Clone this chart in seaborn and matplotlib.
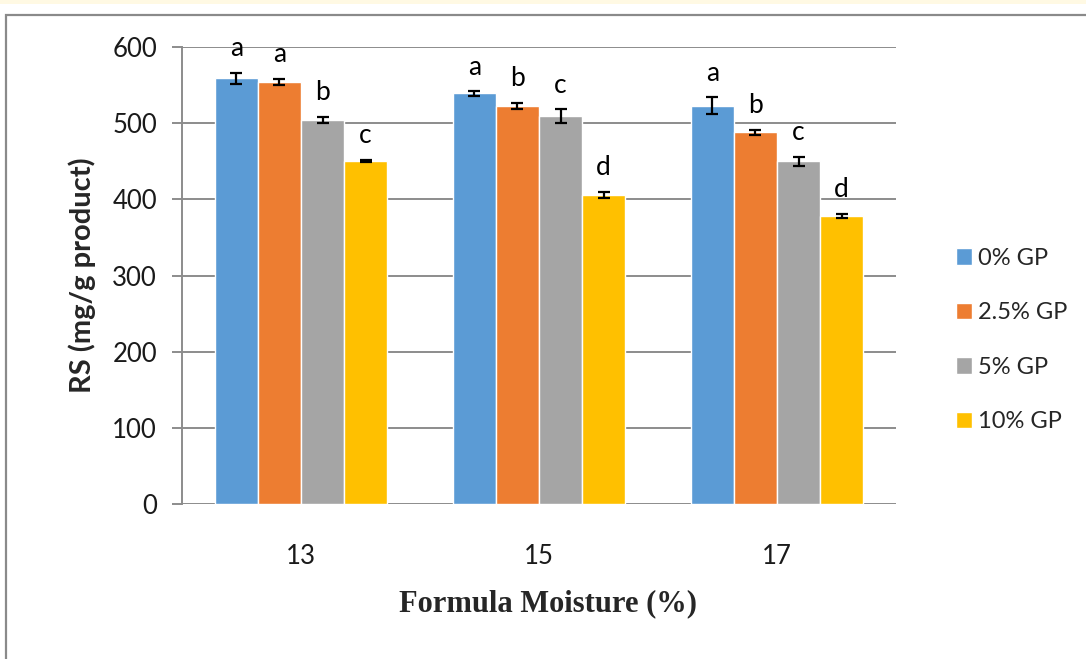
import matplotlib
matplotlib.use('Agg')
import matplotlib.pyplot as plt
import seaborn as sns
import pandas as pd
from matplotlib.patches import Rectangle

# data
moisture = ['13', '15', '17']
levels = ['0% GP', '2.5% GP', '5% GP', '10% GP']
rs_0 = [559, 539, 523]
rs_25 = [554, 523, 488]
rs_5 = [504, 509, 450]
rs_10 = [450, 406, 378]
err_0 = [7, 3, 11]
err_25 = [4, 4, 3]
err_5 = [4, 9, 6]
err_10 = [1.5, 4, 3]
let_0 = ['a', 'a', 'a']
let_25 = ['a', 'b', 'b']
let_5 = ['b', 'c', 'c']
let_10 = ['c', 'd', 'd']

colors = ['#5B9BD5', '#ED7D31', '#A5A5A5', '#FFC000']

values = [rs_0, rs_25, rs_5, rs_10]
errors = [err_0, err_25, err_5, err_10]
letters = [let_0, let_25, let_5, let_10]

rows = []
for lev, vals in zip(levels, values):
    for m, v in zip(moisture, vals):
        rows.append({'moisture': m, 'level': lev, 'rs': v})
df = pd.DataFrame(rows)

sns.set_style('white')
plt.rcParams['font.family'] = ['Lato', 'DejaVu Sans']

fig = plt.figure(figsize=(10.86, 6.59), dpi=100)
ax = fig.add_axes([182/1086, 155/659, 714/1086, 457/659])

sns.barplot(data=df, x='moisture', y='rs', hue='level', hue_order=levels,
            palette=colors, width=0.723, gap=0, saturation=1, errorbar=None,
            ax=ax)

for cont, errs, lets in zip(ax.containers, errors, letters):
    for bar, e, t in zip(cont, errs, lets):
        xc = bar.get_x() + bar.get_width() / 2
        h = bar.get_height()
        ax.errorbar(xc, h, yerr=e, fmt='none', ecolor='black',
                    elinewidth=1.6, capsize=4.5, capthick=1.6, zorder=5)
        ax.annotate(t, (xc, h + e), xytext=(0, 12), textcoords='offset points',
                    ha='center', va='baseline', fontsize=19, color='black')

ax.set_ylim(0, 600)
ax.set_xlim(-0.5, 2.5)
ax.set_yticks(range(0, 601, 100))
ax.yaxis.grid(True, color='#8c8c8c', lw=1.4)
ax.set_axisbelow(True)
for s in ['top', 'right', 'bottom']:
    ax.spines[s].set_visible(False)
ax.spines['left'].set_color('#8c8c8c')
ax.spines['left'].set_linewidth(1.4)
ax.tick_params(axis='y', left=True, length=7, width=1.4, color='#8c8c8c',
               pad=11, labelsize=18.5, labelcolor='#1a1a1a')
ax.tick_params(axis='x', bottom=False, pad=25, labelsize=18.5, labelcolor='#1a1a1a')

ax.set_ylabel('RS (mg/g product)', fontsize=21, fontweight='bold', labelpad=12)
ax.set_xlabel('')
fig.text(548/1086, 1 - 604/659, 'Formula Moisture (%)', ha='center', va='center',
         fontsize=22, fontweight='bold', family='Liberation Serif')

handles, labels = ax.get_legend_handles_labels()
ax.get_legend().remove()
fig.legend(handles, labels, loc='upper left', bbox_to_anchor=(944/1086, 1 - 236/659),
           frameon=False, fontsize=17, handlelength=0.7, handleheight=0.7,
           handletextpad=0.25, labelspacing=1.42, borderpad=0)

# page decorations: faint yellow strip and gray frame
fig.patches.append(Rectangle((0, 1 - 4/659), 1, 4/659, transform=fig.transFigure,
                             facecolor='#FFF9E3', edgecolor='none'))
fig.patches.append(Rectangle((6/1086, -0.1), 1.2, 1.1 - 15/659, transform=fig.transFigure,
                             fill=False, edgecolor='#8a8a8a', lw=1.6))

fig.savefig('out.png', dpi=100)
